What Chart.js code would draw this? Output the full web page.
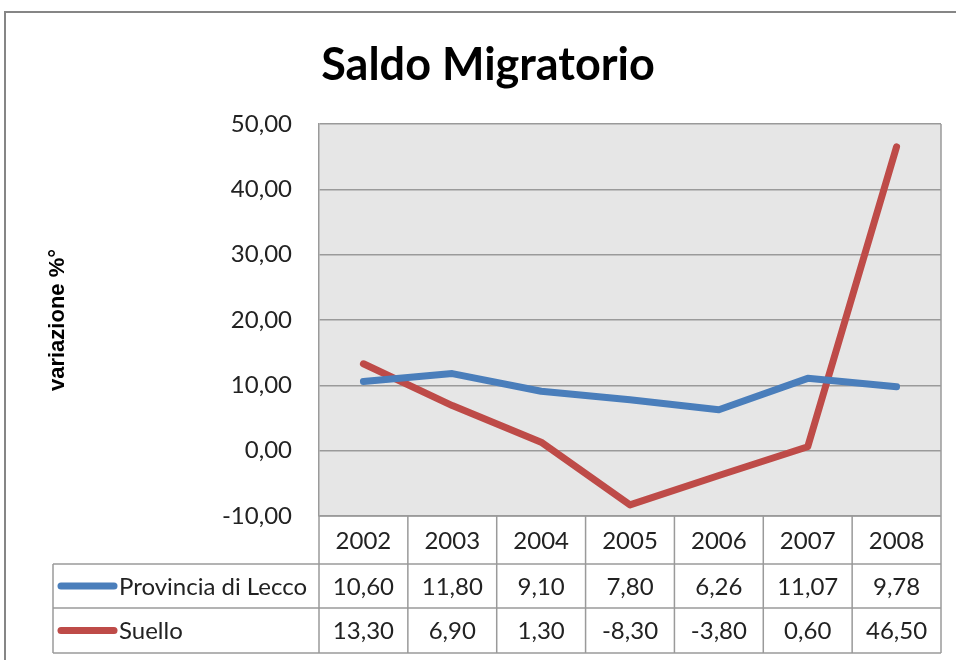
<!DOCTYPE html>
<html>
<head>
<meta charset="utf-8">
<script src="https://cdn.jsdelivr.net/npm/chart.js@4.4.1/dist/chart.umd.min.js"></script>
<style>
  html, body { margin: 0; padding: 0; background: #ffffff; }
  #wrap { width: 956px; height: 660px; position: relative; }
</style>
</head>
<body>
<div id="wrap"><canvas id="chart" width="956" height="660"></canvas></div>
<script>
// Dati del grafico
const anni = ['2002', '2003', '2004', '2005', '2006', '2007', '2008'];
const provinciaLecco = [10.60, 11.80, 9.10, 7.80, 6.26, 11.07, 9.78];
const suello = [13.30, 6.90, 1.30, -8.30, -3.80, 0.60, 46.50];
const serieNomi = ['Provincia di Lecco', 'Suello'];
const serieColori = ['#4a7ebb', '#be4b48'];
const yMin = -10, yMax = 50, yStep = 10;

const FONT = 'Lato, "Open Sans", sans-serif';
const fmt = v => v.toFixed(2).replace('.', ',');

// sfondo grigio dell'area del grafico + cornice esterna
const sfondoPlugin = {
    id: 'sfondo',
    beforeDraw(chart) {
        const { ctx, chartArea: a } = chart;
        ctx.save();
        ctx.fillStyle = '#e6e6e6';
        ctx.fillRect(a.left, a.top, a.right - a.left, a.bottom - a.top);
        ctx.strokeStyle = '#868686';
        ctx.lineWidth = 2;
        ctx.strokeRect(5, 12, 1100, 1100);
        ctx.restore();
    },
    afterDatasetsDraw(chart) {
        const { ctx, chartArea: a } = chart;
        ctx.save();
        ctx.strokeStyle = '#9a9a9a';
        ctx.lineWidth = 1.5;
        ctx.beginPath();
        ctx.moveTo(a.right, a.top);
        ctx.lineTo(a.right, a.bottom);
        ctx.stroke();
        ctx.restore();
    }
};

// tabella dati sotto il grafico
const tabellaPlugin = {
    id: 'tabella',
    afterDraw(chart) {
        const { ctx, chartArea: a, scales: { x } } = chart;
        const colW = x.getPixelForValue(1) - x.getPixelForValue(0);
        const rows = [a.bottom, a.bottom + 48, a.bottom + 92, a.bottom + 137];
        const tableLeft = 53;
        const valori = [provinciaLecco, suello];

        ctx.save();
        ctx.strokeStyle = '#9a9a9a';
        ctx.lineWidth = 1.5;
        ctx.beginPath();
        // linee orizzontali
        ctx.moveTo(a.left, rows[0]); ctx.lineTo(a.right, rows[0]);
        for (let r = 1; r < rows.length; r++) {
            ctx.moveTo(tableLeft, rows[r]); ctx.lineTo(a.right, rows[r]);
        }
        // linee verticali
        ctx.moveTo(tableLeft, rows[1]); ctx.lineTo(tableLeft, rows[3]);
        for (let i = 0; i <= anni.length; i++) {
            const xp = x.getPixelForValue(0) - colW / 2 + i * colW;
            ctx.moveTo(xp, rows[0]); ctx.lineTo(xp, rows[3]);
        }
        ctx.stroke();

        ctx.fillStyle = '#222';
        ctx.font = '24px ' + FONT;
        ctx.textBaseline = 'middle';
        ctx.textAlign = 'center';
        anni.forEach((anno, i) => {
            ctx.fillText(anno, x.getPixelForValue(i), (rows[0] + rows[1]) / 2 + 1);
        });
        valori.forEach((serie, s) => {
            const yc = (rows[s + 1] + rows[s + 2]) / 2;
            serie.forEach((v, i) => {
                ctx.fillText(fmt(v), x.getPixelForValue(i), yc + 1);
            });
        });

        // chiavi della legenda
        ctx.textAlign = 'left';
        serieNomi.forEach((nome, s) => {
            const yc = (rows[s + 1] + rows[s + 2]) / 2;
            ctx.strokeStyle = serieColori[s];
            ctx.lineWidth = 7;
            ctx.lineCap = 'round';
            ctx.beginPath();
            ctx.moveTo(61, yc);
            ctx.lineTo(114, yc);
            ctx.stroke();
            ctx.fillStyle = '#222';
            ctx.fillText(nome, 119, yc + 1);
        });
        ctx.restore();
    }
};

new Chart(document.getElementById('chart'), {
    type: 'line',
    data: {
        labels: anni,
        datasets: [
            {
                label: serieNomi[0],
                data: provinciaLecco,
                borderColor: serieColori[0],
                backgroundColor: serieColori[0],
                borderWidth: 7,
                pointRadius: 0,
                tension: 0,
                borderJoinStyle: 'round',
                borderCapStyle: 'round'
            },
            {
                label: serieNomi[1],
                data: suello,
                borderColor: serieColori[1],
                backgroundColor: serieColori[1],
                borderWidth: 7,
                pointRadius: 0,
                tension: 0,
                borderJoinStyle: 'round',
                borderCapStyle: 'round'
            }
        ]
    },
    options: {
        responsive: false,
        animation: false,
        layout: { padding: { left: 35, right: 15, top: 12, bottom: 0 } },
        plugins: {
            legend: { display: false },
            tooltip: { enabled: false },
            title: {
                display: true,
                text: 'Saldo Migratorio',
                color: '#000',
                font: { family: FONT, size: 45, weight: 'bold', lineHeight: 1.2 },
                padding: { top: 26, bottom: 32 }
            }
        },
        scales: {
            x: {
                offset: true,
                ticks: { display: false },
                grid: { display: false },
                border: { display: false },
                afterFit(scale) { scale.height = 144; }
            },
            y: {
                min: yMin,
                max: yMax,
                ticks: {
                    stepSize: yStep,
                    padding: 27,
                    color: '#222',
                    font: { family: FONT, size: 24 },
                    callback: v => fmt(v)
                },
                grid: { color: '#9a9a9a', lineWidth: 1.5, drawTicks: false },
                border: { color: '#9a9a9a', width: 1.5 },
                title: {
                    display: true,
                    text: 'variazione %°',
                    color: '#000',
                    font: { family: '"Liberation Sans", Arial, sans-serif', size: 22, weight: 'bold', lineHeight: 1.2 },
                    padding: { top: 10, bottom: 0 }
                },
                afterFit(scale) { scale.width = 284; }
            }
        }
    },
    plugins: [sfondoPlugin, tabellaPlugin]
});
</script>
</body>
</html>
